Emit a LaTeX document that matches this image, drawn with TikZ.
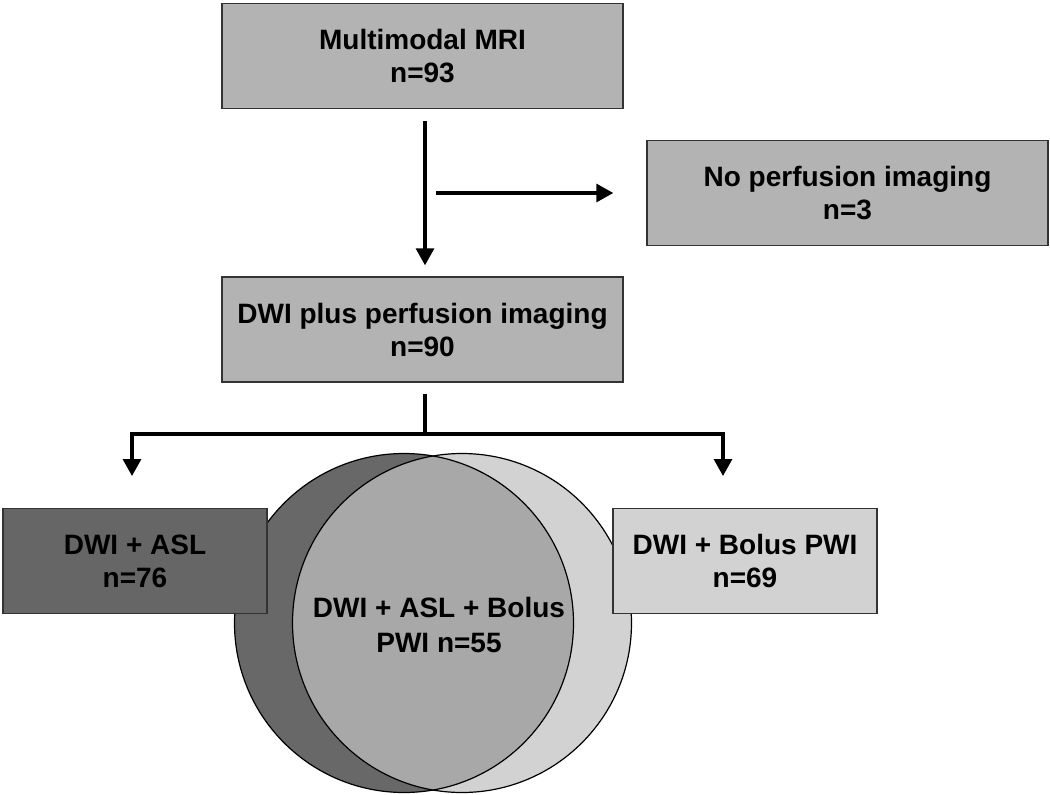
\documentclass[tikz,border=0pt]{standalone}
\usepackage{fontspec}
\setmainfont{Liberation Sans}
\usetikzlibrary{positioning, arrows.meta}

\definecolor{stagegray}{RGB}{179,179,179}
\definecolor{asldark}{RGB}{104,104,104}
\definecolor{boluslight}{RGB}{210,210,210}
\definecolor{bothmid}{RGB}{168,168,168}

\begin{document}
\begin{tikzpicture}[x=1pt, y=-1pt,
		stage/.style={draw=black!80, line width=1.4pt, fill=stagegray, minimum width=401pt, minimum height=105pt, inner sep=0pt, align=center, font=\bfseries\fontsize{28}{33}\selectfont},
		subset/.style={stage, minimum width=264pt},
		flow/.style={line width=3.2pt, -{Triangle[width=18pt,length=17pt]}},
		ring/.style={draw=black, line width=1.2pt}]
	\useasboundingbox (0,0) rectangle (1050,795);
	% overlap of the two perfusion sets
	\coordinate (aslc) at (404,623);
	\coordinate (bolc) at (462,623);
	\fill[asldark] (aslc) circle[radius=169.5pt];
	\fill[boluslight] (bolc) circle[radius=169.5pt];
	\begin{scope}
		\clip (aslc) circle[radius=169.5pt];
		\fill[bothmid] (bolc) circle[radius=169.5pt];
	\end{scope}
	\draw[ring] (aslc) circle[radius=169.5pt];
	\draw[ring] (bolc) circle[radius=169.5pt];
	\node[align=center, font=\bfseries\fontsize{28}{35}\selectfont] (both) at (439,625) {DWI + ASL + Bolus\\PWI n=55};
	% boxes
	\node[stage] (mri) at (422.5,56) {Multimodal MRI\\n=93};
	\node[stage] (none) at (847.5,193) {No perfusion imaging\\n=3};
	\node[stage] (dwi) at (422.5,329.5) {DWI plus perfusion imaging\\n=90};
	\node[subset, fill=asldark!98!black] (asl) at (135,561) {DWI + ASL\\n=76};
	\node[subset, fill=boluslight] (bolus) at (745,561) {DWI + Bolus PWI\\n=69};
	% connectors
	\coordinate (split) at (436,193);
	\coordinate (fork) at (425,434);
	\coordinate (aslin) at (132,476);
	\coordinate (bolin) at (723,476);
	\draw[flow, shorten <=12pt, shorten >=11pt] ([xshift=2.5pt]mri.south) -- ([xshift=2.5pt]dwi.north);
	\draw[flow, shorten >=33pt] (split) -- (none.west);
	\draw[line width=3.2pt, shorten <=11pt] ([xshift=2.5pt]dwi.south) -- (fork);
	\draw[flow] (fork) -| (aslin);
	\draw[flow] (fork) -| (bolin);
\end{tikzpicture}
\end{document}
